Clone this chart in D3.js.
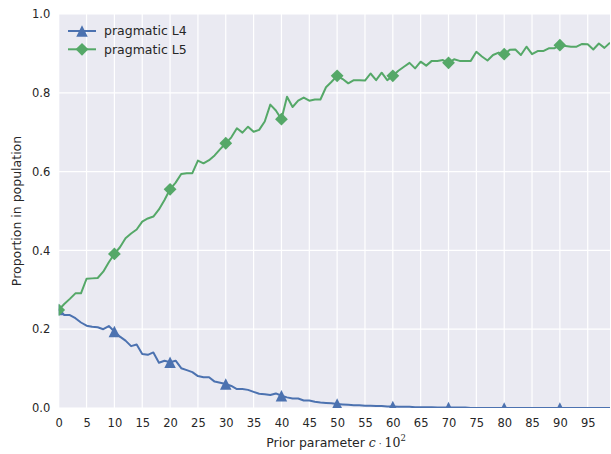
<!DOCTYPE html>
<html>
<head>
<meta charset="utf-8">
<script src="https://cdn.jsdelivr.net/npm/d3@7"></script>
<style>
  body { margin: 0; background: #fff; }
  text { font-family: "DejaVu Sans", sans-serif; fill: #262626; }
</style>
</head>
<body>
<div id="chart"></div>
<script>
// x values: prior parameter c*10^2
const priorC = d3.range(0, 100);

// proportion of pragmatic L4 in population
const l4Values = [
  0.250, 0.236, 0.236, 0.228, 0.217, 0.209, 0.206, 0.205, 0.200, 0.208,
  0.194, 0.181, 0.171, 0.157, 0.161, 0.137, 0.135, 0.141, 0.115, 0.120,
  0.116, 0.120, 0.101, 0.096, 0.091, 0.081, 0.078, 0.078, 0.067, 0.064,
  0.061, 0.056, 0.048, 0.048, 0.046, 0.041, 0.036, 0.035, 0.033, 0.037,
  0.031, 0.027, 0.024, 0.024, 0.019, 0.019, 0.016, 0.014, 0.013, 0.012,
  0.010, 0.009, 0.008, 0.007, 0.007, 0.006, 0.006, 0.005, 0.005, 0.004,
  0.004, 0.003, 0.003, 0.003, 0.002, 0.002, 0.002, 0.002, 0.001, 0.001,
  0.001, 0.001, 0.001, 0.001, 0.000, 0.000, 0.000, 0.000, 0.000, 0.000,
  0.000, 0.000, 0.000, 0.000, 0.000, 0.000, 0.000, 0.000, 0.000, 0.000,
  0.000, 0.000, 0.000, 0.000, 0.000, 0.000, 0.000, 0.000, 0.000, 0.000
];

// proportion of pragmatic L5 in population
const l5Values = [
  0.249, 0.264, 0.277, 0.291, 0.291, 0.328, 0.329, 0.330, 0.346, 0.370,
  0.391, 0.408, 0.431, 0.443, 0.453, 0.473, 0.481, 0.486, 0.504, 0.528,
  0.555, 0.572, 0.594, 0.596, 0.596, 0.628, 0.621, 0.629, 0.641, 0.657,
  0.672, 0.687, 0.710, 0.699, 0.714, 0.701, 0.706, 0.727, 0.770, 0.755,
  0.733, 0.790, 0.764, 0.780, 0.788, 0.780, 0.783, 0.783, 0.814, 0.828,
  0.843, 0.835, 0.824, 0.832, 0.832, 0.831, 0.849, 0.832, 0.851, 0.832,
  0.843, 0.856, 0.866, 0.876, 0.862, 0.879, 0.869, 0.881, 0.881, 0.883,
  0.876, 0.885, 0.881, 0.881, 0.881, 0.904, 0.892, 0.882, 0.896, 0.902,
  0.898, 0.909, 0.910, 0.896, 0.917, 0.898, 0.906, 0.906, 0.913, 0.913,
  0.921, 0.919, 0.917, 0.917, 0.924, 0.923, 0.910, 0.925, 0.914, 0.927
];

const xTicks = d3.range(0, 100, 5);
const yTicks = [0.0, 0.2, 0.4, 0.6, 0.8, 1.0];
const seriesNames = ['pragmatic L4', 'pragmatic L5'];

const width = 611, height = 454;
const margin = { top: 14, right: 1, bottom: 46, left: 58.7 };

const svg = d3.select('#chart').append('svg')
  .attr('width', width)
  .attr('height', height);

const x = d3.scaleLinear().domain([0, 99]).range([margin.left, width - margin.right]);
const y = d3.scaleLinear().domain([0, 1]).range([height - margin.bottom, margin.top]);

// background
svg.append('rect')
  .attr('x', x(0)).attr('y', y(1))
  .attr('width', x(99) - x(0)).attr('height', y(0) - y(1))
  .attr('fill', '#EAEAF2');

svg.append('clipPath').attr('id', 'plotClip')
  .append('rect')
  .attr('x', x(0)).attr('y', y(1))
  .attr('width', x(99) - x(0)).attr('height', y(0) - y(1));

// grid
svg.append('g').selectAll('line').data(xTicks).join('line')
  .attr('x1', d => x(d)).attr('x2', d => x(d))
  .attr('y1', y(0)).attr('y2', y(1))
  .attr('stroke', '#fff').attr('stroke-width', 1.2);
svg.append('g').selectAll('line').data(yTicks).join('line')
  .attr('x1', x(0)).attr('x2', x(99))
  .attr('y1', d => y(d)).attr('y2', d => y(d))
  .attr('stroke', '#fff').attr('stroke-width', 1.2);

// axes (labels only, seaborn style)
const xAxis = svg.append('g')
  .attr('transform', `translate(0,${y(0)})`)
  .call(d3.axisBottom(x).tickValues(xTicks).tickSize(0).tickPadding(11).tickFormat(d3.format('d')));
const yAxis = svg.append('g')
  .attr('transform', `translate(${x(0)},0)`)
  .call(d3.axisLeft(y).tickValues(yTicks).tickSize(0).tickPadding(8.5).tickFormat(d3.format('.1f')));
[xAxis, yAxis].forEach(a => {
  a.select('.domain').remove();
  a.selectAll('text').style('font-family', '"DejaVu Sans", sans-serif')
    .style('font-size', '11.5px').attr('fill', '#262626');
});

// axis titles
const xLabel = svg.append('text')
  .attr('x', 336).attr('y', 447)
  .attr('text-anchor', 'middle')
  .style('font-size', '12.5px');
xLabel.append('tspan').text('Prior parameter ');
xLabel.append('tspan').text('c').style('font-family', '"DejaVu Serif", serif').style('font-style', 'italic');
xLabel.append('tspan').text(' · ').style('font-family', '"DejaVu Serif", serif').style('font-size', '9px');
xLabel.append('tspan').text('10').style('font-family', '"DejaVu Serif", serif');
xLabel.append('tspan').text('2').style('font-family', '"DejaVu Serif", serif')
  .style('font-size', '8.5px').attr('dy', -6);

svg.append('text')
  .attr('transform', `translate(21,${(y(0) + y(1)) / 2}) rotate(-90)`)
  .attr('text-anchor', 'middle')
  .style('font-size', '12.5px')
  .text('Proportion in population');

const colors = ['#4C72B0', '#55A868'];
// matplotlib-style '^' (width = height = ms) and 'D' markers
const ms = 11.5;
const triangle = `M0,${-ms / 2}L${ms / 2},${ms / 2}L${-ms / 2},${ms / 2}Z`;
const diamond = d3.symbol().type(d3.symbolSquare).size(82)();

const line = d3.line().x((d, i) => x(priorC[i])).y(d => y(d));
const plot = svg.append('g').attr('clip-path', 'url(#plotClip)');

[l4Values, l5Values].forEach((vals, k) => {
  plot.append('path')
    .datum(vals)
    .attr('d', line)
    .attr('fill', 'none')
    .attr('stroke', colors[k])
    .attr('stroke-width', 2)
    .attr('stroke-linejoin', 'round');
  const marks = priorC.filter(c => c % 10 === 0);
  plot.append('g').selectAll('path').data(marks).join('path')
    .attr('transform', c => k === 0
      ? `translate(${x(c)},${y(vals[c])})`
      : `translate(${x(c)},${y(vals[c])}) rotate(45)`)
    .attr('d', k === 0 ? triangle : diamond)
    .attr('fill', colors[k]);
});

// legend
const legend = svg.append('g');
seriesNames.forEach((name, k) => {
  const ly = 31 + k * 18.3;
  legend.append('line')
    .attr('x1', 68).attr('x2', 96).attr('y1', ly).attr('y2', ly)
    .attr('stroke', colors[k]).attr('stroke-width', 2);
  legend.append('path')
    .attr('transform', k === 0 ? `translate(82,${ly})` : `translate(82,${ly}) rotate(45)`)
    .attr('d', k === 0 ? triangle : diamond)
    .attr('fill', colors[k]);
  legend.append('text')
    .attr('x', 104).attr('y', ly + 4.3)
    .style('font-size', '12.5px')
    .text(name);
});
</script>
</body>
</html>
